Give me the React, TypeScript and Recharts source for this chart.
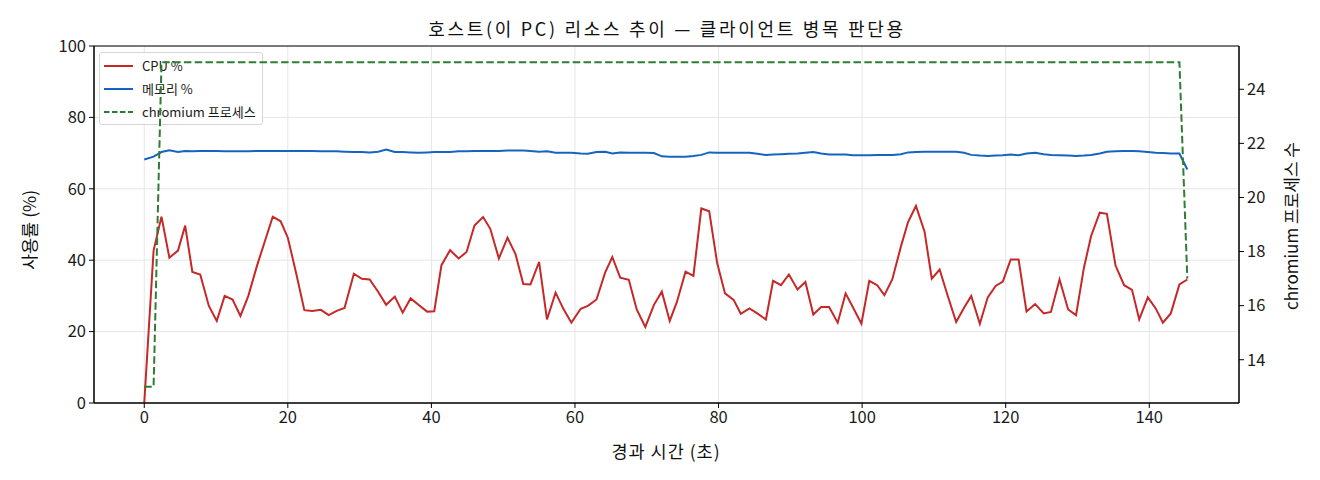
import React from "react";
import {
  LineChart,
  Line,
  XAxis,
  YAxis,
  CartesianGrid,
  ReferenceArea,
} from "recharts";

// elapsed seconds for each sample
const times = [
  0, 1.3, 2.4, 3.5, 4.7, 5.7, 6.7, 7.8, 9.0, 10.1,
  11.2, 12.3, 13.4, 14.5, 15.7, 16.8, 17.9, 19.0, 20.0, 21.2,
  22.3, 23.4, 24.6, 25.7, 26.8, 27.9, 29.2, 30.3, 31.4, 32.6,
  33.7, 34.9, 36.0, 37.1, 38.2, 39.4, 40.4, 41.4, 42.6, 43.8,
  44.9, 46.0, 47.2, 48.2, 49.4, 50.6, 51.7, 52.8, 53.8, 55.0,
  56.1, 57.3, 58.4, 59.5, 60.8, 61.8, 63.0, 64.2, 65.2, 66.3,
  67.5, 68.6, 69.8, 71.0, 72.1, 73.2, 74.2, 75.4, 76.5, 77.6,
  78.7, 79.8, 80.9, 82.1, 83.1, 84.3, 85.4, 86.6, 87.6, 88.7,
  89.8, 91.0, 92.1, 93.2, 94.3, 95.4, 96.6, 97.7, 98.7, 99.9,
  101.0, 102.1, 103.1, 104.2, 105.4, 106.4, 107.5, 108.7, 109.7, 110.8,
  111.9, 113.1, 114.2, 115.2, 116.4, 117.5, 118.6, 119.6, 120.7, 121.8,
  122.9, 124.1, 125.3, 126.3, 127.5, 128.7, 129.8, 130.9, 131.9, 133.1,
  134.1, 135.3, 136.5, 137.6, 138.6, 139.8, 140.9, 141.9, 143.0, 144.2,
  145.3,
];

const cpuPct = [
  0, 42.7, 52.2, 40.7, 42.7, 49.7, 36.7, 36.0, 27.2, 23.0,
  30.0, 29.0, 24.4, 30.0, 38.4, 45.3, 52.2, 50.9, 46.3, 36.0,
  26.0, 25.8, 26.1, 24.6, 25.8, 26.6, 36.2, 34.8, 34.6, 31.1,
  27.5, 29.8, 25.3, 29.3, 27.5, 25.6, 25.7, 38.6, 42.8, 40.5,
  42.3, 49.7, 52.1, 48.8, 40.5, 46.3, 41.8, 33.3, 33.2, 39.5,
  23.4, 30.9, 26.3, 22.5, 26.4, 27.2, 29.0, 36.5, 40.9, 35.1,
  34.5, 26.2, 21.3, 27.5, 31.2, 23.0, 28.3, 36.8, 35.6, 54.5,
  53.7, 39.3, 30.7, 28.9, 25.0, 26.5, 25.1, 23.4, 34.2, 33.0,
  36.0, 31.8, 33.9, 24.8, 26.9, 26.9, 22.5, 30.7, 26.9, 22.2,
  34.2, 33.0, 30.2, 34.6, 43.8, 50.7, 55.2, 48.0, 34.8, 37.4,
  30.2, 22.7, 26.7, 30.0, 22.2, 29.6, 32.8, 34.0, 40.2, 40.2,
  25.6, 27.7, 25.1, 25.5, 34.6, 26.2, 24.6, 37.9, 46.8, 53.3,
  53.0, 38.5, 33.0, 31.7, 23.4, 29.6, 26.5, 22.5, 25.1, 33.2,
  34.6,
];

const memPct = [
  68.2, 69.0, 70.3, 70.8, 70.3, 70.6, 70.5, 70.6, 70.6, 70.6,
  70.5, 70.5, 70.5, 70.5, 70.6, 70.6, 70.6, 70.6, 70.6, 70.6,
  70.6, 70.6, 70.5, 70.5, 70.5, 70.4, 70.3, 70.3, 70.2, 70.4,
  71.0, 70.3, 70.3, 70.2, 70.1, 70.2, 70.3, 70.3, 70.3, 70.5,
  70.5, 70.6, 70.6, 70.6, 70.6, 70.7, 70.7, 70.7, 70.6, 70.4,
  70.5, 70.1, 70.1, 70.1, 69.9, 69.8, 70.3, 70.4, 69.9, 70.2,
  70.1, 70.1, 70.1, 70.0, 69.1, 69.0, 69.0, 69.0, 69.2, 69.5,
  70.2, 70.1, 70.1, 70.1, 70.1, 70.1, 69.8, 69.5, 69.6, 69.7,
  69.8, 69.9, 70.1, 70.3, 69.9, 69.6, 69.6, 69.6, 69.4, 69.4,
  69.4, 69.5, 69.5, 69.5, 69.7, 70.2, 70.3, 70.4, 70.4, 70.4,
  70.4, 70.4, 70.1, 69.5, 69.3, 69.2, 69.3, 69.4, 69.6, 69.4,
  69.9, 70.1, 69.7, 69.5, 69.4, 69.3, 69.2, 69.3, 69.5, 69.9,
  70.4, 70.5, 70.6, 70.6, 70.5, 70.3, 70.1, 70.0, 69.9, 69.9,
  65.4,
];

const chromiumProcs = [
  13, 13, 25, 25, 25, 25, 25, 25, 25, 25,
  25, 25, 25, 25, 25, 25, 25, 25, 25, 25,
  25, 25, 25, 25, 25, 25, 25, 25, 25, 25,
  25, 25, 25, 25, 25, 25, 25, 25, 25, 25,
  25, 25, 25, 25, 25, 25, 25, 25, 25, 25,
  25, 25, 25, 25, 25, 25, 25, 25, 25, 25,
  25, 25, 25, 25, 25, 25, 25, 25, 25, 25,
  25, 25, 25, 25, 25, 25, 25, 25, 25, 25,
  25, 25, 25, 25, 25, 25, 25, 25, 25, 25,
  25, 25, 25, 25, 25, 25, 25, 25, 25, 25,
  25, 25, 25, 25, 25, 25, 25, 25, 25, 25,
  25, 25, 25, 25, 25, 25, 25, 25, 25, 25,
  25, 25, 25, 25, 25, 25, 25, 25, 25, 25,
  17,
];

const xTicks = [0, 20, 40, 60, 80, 100, 120, 140];
const leftTicks = [0, 20, 40, 60, 80, 100];
const rightTicks = [14, 16, 18, 20, 22, 24];

const legendItems = [
  { name: "CPU %", color: "#c62828", dash: "" },
  { name: "메모리 %", color: "#1565c0", dash: "" },
  { name: "chromium 프로세스", color: "#2e7d32", dash: "5.5 2.5" },
];

const FONT = '"Noto Sans CJK KR", "Noto Sans", sans-serif';
const X_DOMAIN: [number, number] = [-7, 152.5];

const data = times.map((t, i) => ({
  t,
  cpu: cpuPct[i],
  mem: memPct[i],
  proc: chromiumProcs[i],
}));

const tickStyle = { fill: "#1a1a1a", fontSize: 16.5, fontFamily: FONT };

function LegendBox() {
  return (
    <div
      style={{
        position: "absolute",
        left: 91,
        top: 44,
        boxSizing: "border-box",
        width: 164,
        height: 73,
        background: "rgba(255,255,255,0.8)",
        border: "1px solid #d6d6d6",
        borderRadius: 3,
        padding: "1px 0 0 4px",
        fontFamily: FONT,
        fontSize: 13,
        color: "#1a1a1a",
      }}
    >
      {legendItems.map((item) => (
        <div
          key={item.name}
          style={{ display: "flex", alignItems: "center", height: 23 }}
        >
          <svg width={30} height={8} style={{ marginRight: 8 }}>
            <line
              x1={0}
              y1={4}
              x2={29}
              y2={4}
              stroke={item.color}
              strokeWidth={2}
              strokeDasharray={item.dash}
            />
          </svg>
          <span style={{ whiteSpace: "nowrap" }}>{item.name}</span>
        </div>
      ))}
    </div>
  );
}

const labelStyle: React.CSSProperties = {
  position: "absolute",
  fontSize: 17.5,
  whiteSpace: "nowrap",
  color: "#111",
};

export default function App() {
  return (
    <div
      style={{
        position: "relative",
        width: 1304,
        height: 464,
        fontFamily: FONT,
      }}
    >
      {/* title */}
      <div
        style={{
          ...labelStyle,
          left: 659,
          top: 20,
          transform: "translate(-50%, -50%)",
          fontSize: 18,
          letterSpacing: 2.7,
        }}
      >
        호스트(이 PC) 리소스 추이 — 클라이언트 병목 판단용
      </div>

      {/* main axes: CPU / memory */}
      <LineChart
        width={1304}
        height={464}
        data={data}
        margin={{ top: 38, right: 73, bottom: 0, left: 0 }}
        style={{ position: "absolute", left: 0, top: 0 }}
      >
        <CartesianGrid stroke="#e6e6e6" strokeWidth={1} />
        <XAxis
          dataKey="t"
          type="number"
          domain={X_DOMAIN}
          ticks={xTicks}
          allowDataOverflow
          height={69}
          tick={tickStyle}
          tickSize={5}
          tickLine={{ stroke: "#000" }}
          axisLine={{ stroke: "#000" }}
          tickMargin={3}
        />
        <YAxis
          domain={[0, 100]}
          ticks={leftTicks}
          width={86}
          tick={tickStyle}
          tickSize={5}
          tickLine={{ stroke: "#000" }}
          axisLine={{ stroke: "#000" }}
          tickMargin={3}
        />
        <ReferenceArea
          x1={X_DOMAIN[0]}
          x2={X_DOMAIN[1]}
          y1={0}
          y2={100}
          fill="none"
          stroke="#000"
          strokeWidth={1}
        />
        <Line
          type="linear"
          dataKey="cpu"
          stroke="#c62828"
          strokeWidth={2}
          dot={false}
          isAnimationActive={false}
        />
        <Line
          type="linear"
          dataKey="mem"
          stroke="#1565c0"
          strokeWidth={2}
          dot={false}
          isAnimationActive={false}
        />
      </LineChart>

      <LegendBox />

      {/* twin axes: chromium processes, drawn above the legend */}
      <LineChart
        width={1304}
        height={464}
        data={data}
        margin={{ top: 38, right: 0, bottom: 69, left: 86 }}
        style={{ position: "absolute", left: 0, top: 0, pointerEvents: "none" }}
      >
        <XAxis
          dataKey="t"
          type="number"
          domain={X_DOMAIN}
          allowDataOverflow
          hide
        />
        <YAxis
          orientation="right"
          domain={[12.4, 25.6]}
          ticks={rightTicks}
          allowDataOverflow
          width={73}
          tick={tickStyle}
          tickSize={5}
          tickLine={{ stroke: "#000" }}
          axisLine={{ stroke: "#000" }}
          tickMargin={3}
        />
        <Line
          type="linear"
          dataKey="proc"
          stroke="#2e7d32"
          strokeWidth={2}
          strokeDasharray="7.5 3.3"
          dot={false}
          isAnimationActive={false}
        />
      </LineChart>

      {/* axis labels */}
      <div
        style={{
          ...labelStyle,
          left: 20,
          top: 222,
          transform: "translate(-50%, -50%) rotate(-90deg)",
        }}
      >
        사용률 (%)
      </div>
      <div
        style={{
          ...labelStyle,
          left: 658,
          top: 442,
          transform: "translate(-50%, -50%)",
          letterSpacing: 1,
        }}
      >
        경과 시간 (초)
      </div>
      <div
        style={{
          ...labelStyle,
          left: 1282,
          top: 218,
          transform: "translate(-50%, -50%) rotate(-90deg)",
          fontSize: 17,
        }}
      >
        chromium 프로세스 수
      </div>
    </div>
  );
}
